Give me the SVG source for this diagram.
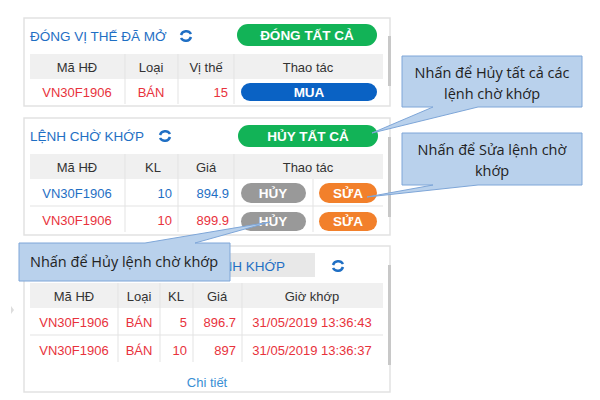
<svg xmlns="http://www.w3.org/2000/svg" width="600" height="400" viewBox="0 0 600 400">
<style>
text{font-family:"Liberation Sans",Arial,sans-serif;font-size:13px}
.t{fill:#1f6fc4;font-size:13.5px}
.h{fill:#333;text-anchor:middle}
.r{fill:#e8323c}
.b{fill:#1f6fc4}
.w{fill:#fff;font-weight:bold;text-anchor:middle;font-size:13.5px}
.panel{fill:#fff;stroke:#e2e2e2;stroke-width:1.5}
.hd{fill:#f0f0f0}
.ln{stroke:#e3e3e3;stroke-width:1}
.call{fill:#b9d1ec;stroke:#7ea6d8;stroke-width:1}
.ct{font-family:"Open Sans","DejaVu Sans",sans-serif;font-size:14.5px;fill:#222;text-anchor:middle}
.ic{fill:none;stroke:#1f6fc4;stroke-width:2.5}
</style>
<rect width="600" height="400" fill="#fff"/>
<g id="panel1">
<rect class="panel" x="24" y="18" width="366" height="88"/>
<rect x="388" y="36" width="3" height="50" fill="#c8c8c8"/>
<text class="t" x="30" y="41">ĐÓNG VỊ THẾ ĐÃ MỞ</text>
<g transform="translate(186,36)"><path class="ic" d="M-5,-1 A5.5,5.5 0 0 1 5,-2"/><path class="ic" d="M5,1 A5.5,5.5 0 0 1 -5,2"/></g>
<rect x="237" y="24" width="140" height="22" rx="11" fill="#12b357"/>
<text class="w" x="307" y="40">ĐÓNG TẤT CẢ</text>
<rect class="hd" x="30" y="54" width="353" height="25"/>
<path class="ln" d="M125,54V104M178,54V104M234,54V104"/>
<text class="h" x="77" y="72">Mã HĐ</text><text class="h" x="151" y="72">Loại</text><text class="h" x="206" y="72">Vị thế</text><text class="h" x="308" y="72">Thao tác</text>
<text class="r" x="77" y="97" text-anchor="middle">VN30F1906</text><text class="r" x="151" y="97" text-anchor="middle">BÁN</text><text class="r" x="228" y="97" text-anchor="end">15</text>
<rect x="241" y="83" width="136" height="18" rx="9" fill="#0a62c4"/>
<text class="w" x="309" y="97">MUA</text>
</g>
<g id="panel2">
<rect class="panel" x="24" y="118" width="366" height="117"/>
<rect x="388" y="137" width="3" height="80" fill="#c8c8c8"/>
<text class="t" x="30" y="141">LỆNH CHỜ KHỚP</text>
<g transform="translate(165,136)"><path class="ic" d="M-5,-1 A5.5,5.5 0 0 1 5,-2"/><path class="ic" d="M5,1 A5.5,5.5 0 0 1 -5,2"/></g>
<rect x="238" y="125" width="140" height="22" rx="11" fill="#12b357"/>
<text class="w" x="308" y="141">HỦY TẤT CẢ</text>
<rect class="hd" x="30" y="154" width="353" height="25"/>
<path class="ln" d="M125,154V232M178,154V232M234,154V232M313,179V232M30,206H383"/>
<text class="h" x="77" y="172">Mã HĐ</text><text class="h" x="153" y="172">KL</text><text class="h" x="206" y="172">Giá</text><text class="h" x="308" y="172">Thao tác</text>
<text class="b" x="77" y="198" text-anchor="middle">VN30F1906</text><text class="b" x="172" y="198" text-anchor="end">10</text><text class="b" x="229" y="198" text-anchor="end">894.9</text>
<text class="r" x="77" y="225" text-anchor="middle">VN30F1906</text><text class="r" x="172" y="225" text-anchor="end">10</text><text class="r" x="229" y="225" text-anchor="end">899.9</text>
<rect x="241" y="183" width="65" height="20" rx="10" fill="#999"/><text class="w" x="273" y="198">HỦY</text>
<rect x="319" y="183" width="58" height="20" rx="10" fill="#f2802b"/><text class="w" x="348" y="198">SỬA</text>
<rect x="241" y="212" width="65" height="19" rx="9.5" fill="#999"/><text class="w" x="273" y="226">HỦY</text>
<rect x="319" y="212" width="58" height="19" rx="9.5" fill="#f2802b"/><text class="w" x="348" y="226">SỬA</text>
</g>
<g id="panel3">
<rect class="panel" x="24" y="246" width="366" height="146"/>
<rect x="388" y="265" width="3" height="100" fill="#c8c8c8"/>
<path d="M11,306 L14,310 L11,314Z" fill="#ddd"/>
<rect x="200" y="253" width="115" height="24" fill="#e8e8e8"/>
<text class="t" x="285" y="271" text-anchor="end">LỆNH KHỚP</text>
<g transform="translate(338,266)"><path class="ic" d="M-5,-1 A5.5,5.5 0 0 1 5,-2"/><path class="ic" d="M5,1 A5.5,5.5 0 0 1 -5,2"/></g>
<rect class="hd" x="30" y="283" width="353" height="25"/>
<path class="ln" d="M118,283V362M160,283V362M193,283V362M242,283V362M30,335H383"/>
<text class="h" x="74" y="301">Mã HĐ</text><text class="h" x="139" y="301">Loại</text><text class="h" x="176" y="301">KL</text><text class="h" x="217" y="301">Giá</text><text class="h" x="312" y="301">Giờ khớp</text>
<g class="r" text-anchor="middle">
<text x="74" y="327">VN30F1906</text><text x="139" y="327">BÁN</text><text x="187" y="327" text-anchor="end">5</text><text x="236" y="327" text-anchor="end">896.7</text><text x="312" y="327">31/05/2019 13:36:43</text>
<text x="74" y="355">VN30F1906</text><text x="139" y="355">BÁN</text><text x="187" y="355" text-anchor="end">10</text><text x="236" y="355" text-anchor="end">897</text><text x="312" y="355">31/05/2019 13:36:37</text>
</g>
<text x="207" y="387" fill="#3a8fd4" text-anchor="middle">Chi tiết</text>
</g>
<g id="connectors">
<path class="call" d="M402,56H582V107H478L372,133L433,107H402Z"/>
<path class="call" d="M402,133H582V185H478L367,197L433,185H402Z"/>
<path class="call" d="M19,243H145L270,222L195,243H230V281H19Z"/>
</g>
<g id="callouts">
<text class="ct" x="492" y="78">Nhấn để Hủy tất cả các</text>
<text class="ct" x="492" y="99">lệnh chờ khớp</text>
<text class="ct" x="492" y="155">Nhấn để Sửa lệnh chờ</text>
<text class="ct" x="492" y="176">khớp</text>
<text class="ct" x="124" y="267">Nhấn để Hủy lệnh chờ khớp</text>
</g>
</svg>
